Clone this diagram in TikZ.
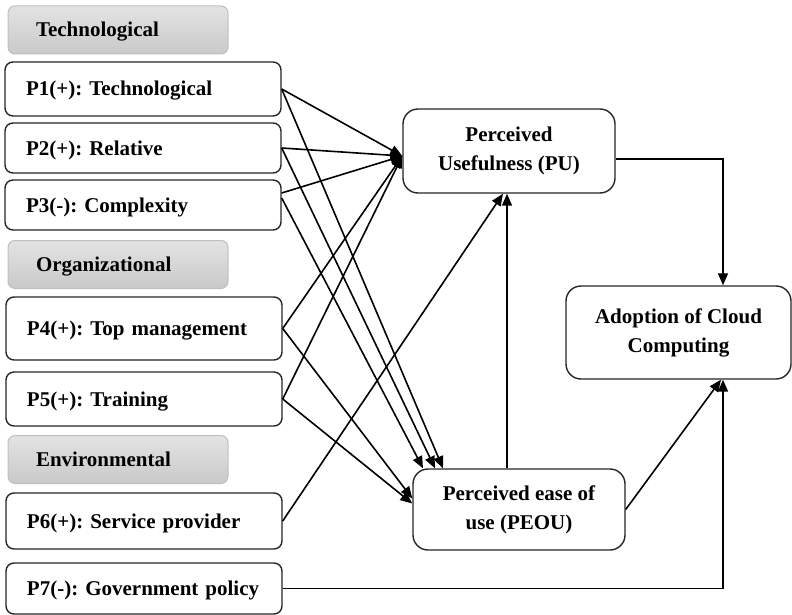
\documentclass[tikz,border=0pt]{standalone}
\usepackage{fontspec}
\setmainfont{Liberation Serif}
\frenchspacing
\usetikzlibrary{arrows.meta,calc}
\begin{document}
\begin{tikzpicture}[x=1pt,y=-1pt,
  every node/.style={font=\fontsize{21}{29}\selectfont\bfseries},
  pbox/.style={draw=black!85,line width=1.4pt,rounded corners=8pt,fill=white,
    text width=234pt,inner xsep=21pt,align=left,anchor=center,
    text height=14pt,text depth=0pt},
  hbox/.style={draw=gray!50,line width=1pt,rounded corners=7pt,
    top color=gray!22,bottom color=gray!42,
    text height=14pt,text depth=0pt,
    text width=164pt,inner xsep=28pt,align=left,minimum height=48pt,anchor=center},
  cbox/.style={draw=black!85,line width=1.4pt,rounded corners=15pt,fill=white,
    align=center,anchor=center},
  arr/.style={line width=1.6pt,-{Triangle[length=12pt,width=10pt]}}]
\useasboundingbox (0,0) rectangle (792,615);
% header boxes
\node[hbox] (hT) at (118,30) {Technological};
\node[hbox] (hO) at (118,264.5) {Organizational};
\node[hbox] (hE) at (118,459.5) {Environmental};
% factor boxes
\node[pbox,minimum height=54pt] (p1) at (143,89) {P1(+): Technological};
\node[pbox,minimum height=50pt] (p2) at (143,148) {P2(+): Relative};
\node[pbox,minimum height=50pt] (p3) at (143,205) {P3(-): Complexity};
\node[pbox,minimum height=63pt] (p4) at (144,328.5) {P4(+): Top management};
\node[pbox,minimum height=54pt] (p5) at (144,399) {P5(+): Training};
\node[pbox,minimum height=56pt] (p6) at (144,521) {P6(+): Service provider};
\node[pbox,minimum height=51pt] (p7) at (144,588.5) {P7(-): Government policy};
% construct boxes
\node[cbox,minimum width=212pt,minimum height=84pt] (pu) at (509,151) {Perceived\\Usefulness (PU)};
\node[cbox,minimum width=225pt,minimum height=93pt] (ad) at (678.5,332.5) {Adoption of Cloud\\Computing};
\node[cbox,minimum width=212pt,minimum height=81pt] (pe) at (519,509.5) {Perceived ease of\\use (PEOU)};
% target coordinates
\coordinate (puin) at ([yshift=-5pt]pu.west);
\coordinate (pubot) at ([xshift=-6pt]pu.south);
\coordinate (petA) at ([xshift=-96pt]pe.north);
\coordinate (petB) at ([xshift=-84pt]pe.north);
\coordinate (petC) at ([xshift=-76pt]pe.north);
\coordinate (pelA) at ([yshift=11pt]pe.west);
\coordinate (pelB) at ([yshift=6pt]pe.west);
\coordinate (adtop) at ([xshift=44.5pt]ad.north);
\coordinate (adbot) at ([xshift=44.5pt]ad.south);
% arrows to PU
\draw[arr] (p1.east) -- (puin);
\draw[arr] (p2.east) -- (puin);
\draw[arr] ([yshift=12pt]p3.east) -- (puin);
\draw[arr] (p4.east) -- (puin);
\draw[arr] (p5.east) -- (puin);
\draw[arr] (p6.east) -- (pubot);
% arrows to PEOU
\draw[arr] (p1.east) -- (petC);
\draw[arr] (p2.east) -- (petB);
\draw[arr] ([yshift=7pt]p3.east) -- (petA);
\draw[arr] (p4.east) -- (pelA);
\draw[arr] (p5.east) -- (pelB);
% PEOU to PU
\draw[arr] (pe.north -| 507,0) -- (pu.south -| 507,0);
% to adoption
\draw[arr] ([yshift=-8pt]pu.east) -| (adtop);
\draw[arr] (pe.east) -- ([xshift=-2pt]adbot);
\draw[arr] (p7.east) -| (adbot);
\end{tikzpicture}
\end{document}
